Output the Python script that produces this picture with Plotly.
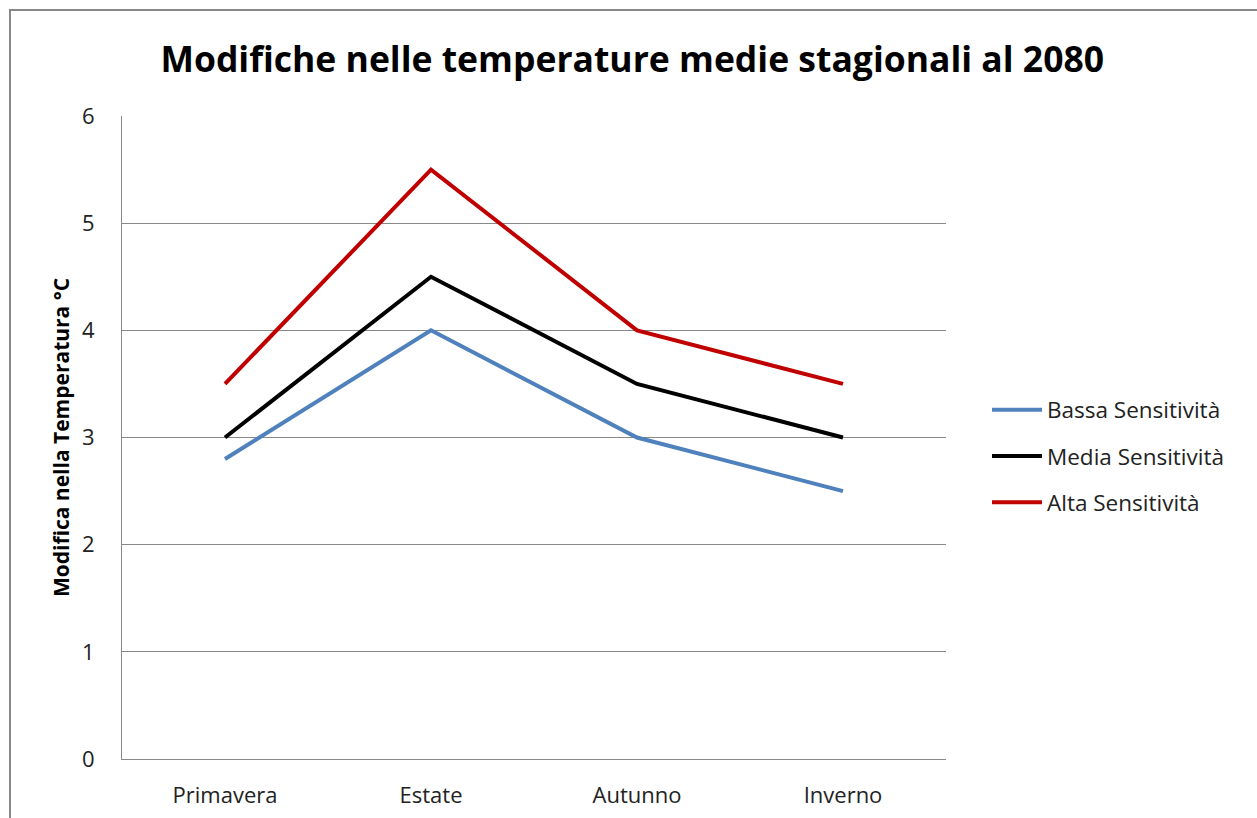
import plotly.graph_objects as go

# Seasonal temperature change by 2080 under three climate-sensitivity scenarios
stagioni = ["Primavera", "Estate", "Autunno", "Inverno"]
bassa = [2.8, 4.0, 3.0, 2.5]
media = [3.0, 4.5, 3.5, 3.0]
alta = [3.5, 5.5, 4.0, 3.5]

serie = [
    ("Bassa Sensitività", bassa, "#4F81BD"),
    ("Media Sensitività", media, "#000000"),
    ("Alta Sensitività", alta, "#C00000"),
]

FONT = "Open Sans, Noto Sans, DejaVu Sans, sans-serif"

fig = go.Figure()
for nome, valori, colore in serie:
    fig.add_trace(go.Scatter(
        x=stagioni, y=valori, name=nome, mode="lines", legendgroup=nome,
        line=dict(color=colore, width=4),
    ))

W, H = 1257, 818
ml, mr, mt, mb = 122, W - 946, 116, H - 759
pw, ph = W - ml - mr, H - mt - mb

def px_x(x):
    return (x - ml) / pw

def px_y(y):
    return (H - mb - y) / ph

fig.update_layout(
    width=W, height=H,
    margin=dict(l=ml, r=mr, t=mt, b=mb, pad=0, autoexpand=False),
    paper_bgcolor="white", plot_bgcolor="white",
    font=dict(family=FONT, size=22, color="#222222"),
    title=dict(
        text="<b>Modifiche nelle temperature medie stagionali al 2080</b>",
        x=0.503, xanchor="center", y=1 - 60 / H, yanchor="middle",
        font=dict(family=FONT, size=35.5, color="#000000"),
    ),
    xaxis=dict(
        type="category", range=[-0.5, 3.5], automargin=False,
        showgrid=False, showline=True, linecolor="#888888", linewidth=1,
        ticks="", tickfont=dict(size=22), ticklabelstandoff=17,
        fixedrange=True,
    ),
    yaxis=dict(
        range=[0, 6], dtick=1, tick0=0, automargin=False,
        showgrid=True, gridcolor="#888888", gridwidth=1,
        showline=True, linecolor="#888888", linewidth=1,
        zeroline=False, ticks="", tickfont=dict(size=22),
        ticklabelstandoff=22,
        title=dict(text="<b>Modifica nella Temperatura °C</b>",
                   font=dict(size=21, color="#000000"), standoff=6),
        fixedrange=True,
    ),
    legend=dict(
        x=px_x(987), xanchor="left", y=px_y(456), yanchor="middle",
        font=dict(size=22.5, color="#222222"),
        bgcolor="rgba(0,0,0,0)", tracegroupgap=14, itemwidth=50,
    ),
    shapes=[dict(
        type="rect", xref="paper", yref="paper",
        x0=px_x(10), x1=px_x(W + 20), y0=px_y(H + 20), y1=px_y(10),
        line=dict(color="#888888", width=2), fillcolor="rgba(0,0,0,0)",
        layer="below",
    )],
)

fig.write_html("out.html")
